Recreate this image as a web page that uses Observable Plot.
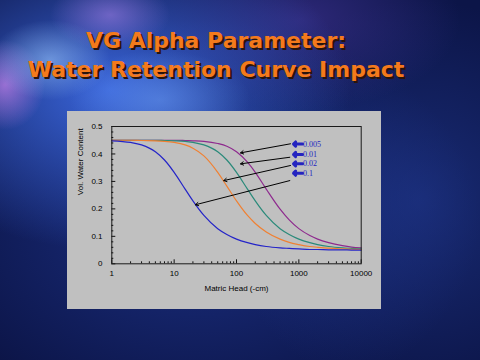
<!DOCTYPE html>
<html>
<head>
<meta charset="utf-8">
<script src="https://cdn.jsdelivr.net/npm/d3@7"></script>
<script src="https://cdn.jsdelivr.net/npm/@observablehq/plot@0.6"></script>
<style>
  html, body { margin: 0; padding: 0; }
  body {
    width: 480px; height: 360px; overflow: hidden; position: relative;
    background:
      radial-gradient(ellipse 60px 40px at 50px 60px, rgba(150,195,250,0.6), rgba(150,195,250,0) 100%),
      radial-gradient(ellipse 40px 45px at 5px 85px, rgba(200,130,235,0.7), rgba(200,130,235,0) 100%),
      radial-gradient(ellipse 60px 35px at 110px 15px, rgba(170,130,235,0.55), rgba(170,130,235,0) 100%),
      radial-gradient(ellipse 90px 50px at 160px 100px, rgba(110,160,245,0.5), rgba(110,160,245,0) 100%),
      radial-gradient(ellipse 240px 160px at 110px 90px, rgba(60,105,225,0.95), rgba(60,105,225,0) 100%),
      radial-gradient(ellipse 160px 90px at 300px 20px, rgba(80,60,170,0.5), rgba(80,60,170,0) 100%),
      radial-gradient(ellipse 200px 200px at 420px 200px, rgba(40,70,170,0.45), rgba(40,70,170,0) 100%),
      radial-gradient(ellipse 280px 200px at 200px 220px, rgba(40,70,180,0.55), rgba(40,70,180,0) 100%),
      #0c1548;
  }
  .title {
    position: absolute; left: 216px; transform: translateX(-50%);
    white-space: nowrap; font-family: "DejaVu Sans", Verdana, sans-serif;
    font-weight: bold; font-size: 22px; line-height: 29px; color: #f47a1c;
    text-shadow: 2px 2px 0 #2a140c;
  }
  #panel {
    position: absolute; left: 67px; top: 111px; width: 314px; height: 198px;
    background: #c0c0c0;
  }
  #panel svg { display: block; }
</style>
</head>
<body>
<div class="title" style="top:26px">VG Alpha Parameter:</div>
<div class="title" style="top:55px">Water Retention Curve Impact</div>
<div id="panel"></div>
<script>
// Matric head values (-cm) at which curves were read
const heads = [1,2,3,5,7,10,15,20,30,50,70,100,150,200,300,500,700,1000,1500,2000,3000,5000,7000,10000];
// Volumetric water content for each VG alpha value
const alpha0005 = [0.450,0.450,0.450,0.450,0.450,0.450,0.449,0.448,0.446,0.438,0.428,0.408,0.370,0.333,0.272,0.199,0.160,0.128,0.103,0.090,0.077,0.066,0.061,0.058];
const alpha001  = [0.450,0.450,0.450,0.450,0.449,0.448,0.446,0.442,0.433,0.408,0.378,0.333,0.272,0.229,0.176,0.128,0.107,0.090,0.077,0.070,0.063,0.058,0.056,0.054];
const alpha002  = [0.450,0.450,0.449,0.448,0.446,0.442,0.433,0.421,0.393,0.333,0.283,0.229,0.176,0.147,0.116,0.090,0.078,0.070,0.063,0.060,0.057,0.054,0.053,0.052];
const alpha01   = [0.448,0.442,0.433,0.408,0.378,0.333,0.272,0.229,0.176,0.128,0.107,0.090,0.077,0.070,0.063,0.058,0.056,0.054,0.052,0.052,0.051,0.051,0.050,0.050];
const seriesNames = ["0.005","0.01","0.02","0.1"];
const seriesColors = ["#8e2a8e","#2a8a7a","#f08032","#2424c8"];
const seriesValues = [alpha0005, alpha001, alpha002, alpha01];

// Tick values
const xMajor = [1,10,100,1000,10000];
const xMinor = [2,3,4,5,6,7,8,9,20,30,40,50,60,70,80,90,200,300,400,500,600,700,800,900,2000,3000,4000,5000,6000,7000,8000,9000];
const yMajor = [0,0.1,0.2,0.3,0.4,0.5];
const yMinor = [0.02,0.04,0.06,0.08,0.12,0.14,0.16,0.18,0.22,0.24,0.26,0.28,0.32,0.34,0.36,0.38,0.42,0.44,0.46,0.48];

// Annotation labels (alpha values) and the arrows pointing from them to the curves
const labelText = ["0.005","0.01","0.02","0.1"];
const labelY = [0.436,0.398,0.364,0.330];
const arrowFromH = [735,716,735,716];
const arrowFromY = [0.437,0.388,0.358,0.303];
const arrowToH = [116,116,62.5,22];
const arrowToY = [0.404,0.364,0.303,0.215];

const rows = [];
seriesNames.forEach((name, i) => heads.forEach((h, j) => rows.push({alpha: name, h, theta: seriesValues[i][j]})));
const labels = labelText.map((t, i) => ({t, y: labelY[i]}));
const arrows = arrowFromH.map((h, i) => ({h1: h, y1: arrowFromY[i], h2: arrowToH[i], y2: arrowToY[i]}));

const chart = Plot.plot({
  width: 314, height: 198,
  marginLeft: 44.3, marginRight: 20.3, marginTop: 15, marginBottom: 45.7,
  style: {background: "transparent", fontFamily: "'Liberation Sans', Arial, sans-serif", fontSize: "8px", color: "#000", overflow: "visible"},
  x: {type: "log", domain: [1, 10000]},
  y: {domain: [0, 0.5]},
  color: {domain: seriesNames, range: seriesColors},
  marks: [
    Plot.axisX(xMajor, {tickSize: 0, tickPadding: 7, tickFormat: d => String(d), label: null, fill: "#000", letterSpacing: 0.4}),
    Plot.axisX(xMajor, {tickSize: -4, fill: "none", label: null, stroke: "#111"}),
    Plot.axisX(xMinor, {tickSize: -2, fill: "none", label: null, stroke: "#111"}),
    Plot.axisY(yMajor, {tickSize: 0, tickPadding: 9.3, tickFormat: d => d === 0 ? "0" : String(d), label: null, fill: "#000", letterSpacing: 0.4}),
    Plot.axisY(yMajor, {tickSize: -4, fill: "none", label: null, stroke: "#111"}),
    Plot.axisY(yMinor, {tickSize: -2, fill: "none", label: null, stroke: "#111"}),
    Plot.text(["Vol. Water Content"], {frameAnchor: "left", rotate: -90, dx: -31, fontSize: 8, letterSpacing: 0.35, fill: "#000"}),
    Plot.text(["Matric Head (-cm)"], {frameAnchor: "bottom", dy: 27.4, fontSize: 8, letterSpacing: 0.5, fill: "#000"}),
    Plot.line(rows, {x: "h", y: "theta", z: "alpha", stroke: "alpha", strokeWidth: 1.2, curve: "monotone-x"}),
    Plot.arrow(arrows, {x1: "h1", y1: "y1", x2: "h2", y2: "y2", stroke: "#000", strokeWidth: 1, headLength: 5}),
    Plot.arrow(labels, {x1: 1145, x2: 821, y1: "y", y2: "y", stroke: "#2424c0", strokeWidth: 3, headLength: 2.5, headAngle: 90}),
    Plot.text(labels, {x: 1170, y: "y", text: "t", textAnchor: "start", fill: "#2424c0", fontFamily: "'Liberation Serif', serif", fontSize: 8}),
    Plot.frame({stroke: "#1a1a1a"})
  ]
});
document.getElementById("panel").appendChild(chart);
</script>
</body>
</html>
